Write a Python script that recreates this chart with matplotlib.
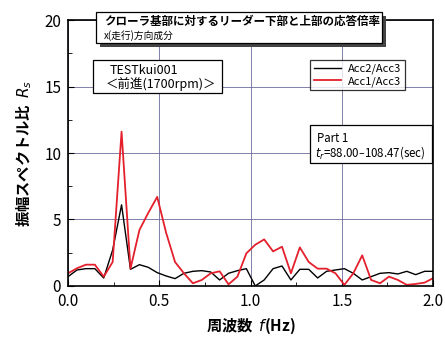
import matplotlib
matplotlib.use("Agg")
import matplotlib.pyplot as plt
from matplotlib.patches import Rectangle
from matplotlib.ticker import MultipleLocator
import numpy as np

plt.rcParams['font.family'] = ['Noto Sans CJK JP', 'DejaVu Sans']
plt.rcParams['mathtext.fontset'] = 'dejavusans'

# frequency resolution from record length 108.47 - 88.00 s
df = 1.0 / 20.47
freq = np.arange(42) * df

acc2_acc3 = [0.7, 1.2, 1.3, 1.3, 0.6, 2.7, 6.1, 1.25, 1.6, 1.4,
             1.0, 0.75, 0.55, 0.95, 1.1, 1.15, 1.05, 0.45, 0.95, 1.15,
             1.3, 0.0, 0.45, 1.3, 1.5, 0.45, 1.25, 1.25, 0.6, 1.1,
             1.2, 1.3, 0.95, 0.45, 0.7, 0.95, 1.0, 0.9, 1.1, 0.85,
             1.1, 1.1]
acc1_acc3 = [0.95, 1.33, 1.6, 1.6, 0.7, 1.8, 11.6, 1.3, 4.2, 5.5,
             6.7, 4.0, 1.8, 0.95, 0.2, 0.45, 0.95, 1.1, 0.12, 0.7,
             2.45, 3.1, 3.5, 2.6, 2.95, 0.95, 2.9, 1.8, 1.3, 1.3,
             0.95, 0.08, 0.95, 2.3, 0.45, 0.2, 0.7, 0.45, 0.08, 0.15,
             0.25, 0.6]

fig = plt.figure(figsize=(4.45, 3.4), dpi=100)
ax = fig.add_axes([0.153, 0.159, 0.820, 0.782])

ax.plot(freq, acc2_acc3, color='black', lw=1.0, label='Acc2/Acc3')
ax.plot(freq, acc1_acc3, color='#e3202c', lw=1.3, label='Acc1/Acc3')

ax.set_xlim(0, 2.0)
ax.set_ylim(0, 20)
ax.xaxis.set_major_locator(MultipleLocator(0.5))
ax.xaxis.set_minor_locator(MultipleLocator(0.25))
ax.yaxis.set_major_locator(MultipleLocator(5))
ax.yaxis.set_minor_locator(MultipleLocator(2.5))
ax.xaxis.set_major_formatter(matplotlib.ticker.FormatStrFormatter('%.1f'))
ax.tick_params(which='both', direction='in', labelsize=11, top=False, right=False)
ax.tick_params(which='major', length=4)
ax.tick_params(which='minor', length=3)
ax.tick_params(axis='x', pad=5)
ax.tick_params(axis='y', pad=5)
ax.grid(True, which='major', color='#6a6a9a', lw=0.6)
for s in ax.spines.values():
    s.set_linewidth(1.2)

ax.set_xlabel('周波数  $f$(Hz)', fontsize=11, fontweight='bold')
ax.set_ylabel('振幅スペクトル比  $R_s$', fontsize=11, fontweight='bold', labelpad=7)

# framed boxes placed in pixel coordinates of the figure
W, H = 445.0, 340.0
def fbox(x0, y0, x1, y1, shadow=False):
    if shadow:
        fig.patches.append(Rectangle((x0 / W + 4 / W, 1 - y1 / H - 4 / H), (x1 - x0) / W, (y1 - y0) / H,
                                     transform=fig.transFigure, facecolor='#444444', edgecolor='none', zorder=5))
    fig.patches.append(Rectangle((x0 / W, 1 - y1 / H), (x1 - x0) / W, (y1 - y0) / H,
                                 transform=fig.transFigure, facecolor='white', edgecolor='black', lw=0.9, zorder=6))

fbox(96, 12, 382, 43, shadow=True)
fig.text(104 / W, 1 - 15 / H, 'クローラ基部に対するリーダー下部と上部の応答倍率', fontsize=8.3,
         fontweight='bold', va='top', zorder=7)
fig.text(104 / W, 1 - 30 / H, 'x(走行)方向成分', fontsize=7, va='top', zorder=7)

fbox(93, 60, 222, 93)
fig.text(110 / W, 1 - 70.5 / H, 'TESTkui001', fontsize=9, va='center', zorder=7)
fig.text(106 / W, 1 - 84.5 / H, '＜前進(1700rpm)＞', fontsize=9, va='center', zorder=7)

leg = ax.legend(loc='upper left', bbox_to_anchor=((310 - 68) / 365, (286 - 60) / 266),
                fontsize=8, frameon=True, fancybox=False, handlelength=2.4,
                borderpad=0.35, labelspacing=0.15, handletextpad=0.7, borderaxespad=0)
leg.get_frame().set_edgecolor('black')
leg.get_frame().set_linewidth(0.9)

fbox(310, 125, 432, 163)
fig.text(317 / W, 1 - 138 / H, 'Part 1', fontsize=8.3, va='center', zorder=7)
fig.text(315 / W, 1 - 153 / H, '$t_r$=88.00\u2013108.47(sec)', fontsize=8.3, va='center', zorder=7)

fig.savefig('out.png', dpi=100)
